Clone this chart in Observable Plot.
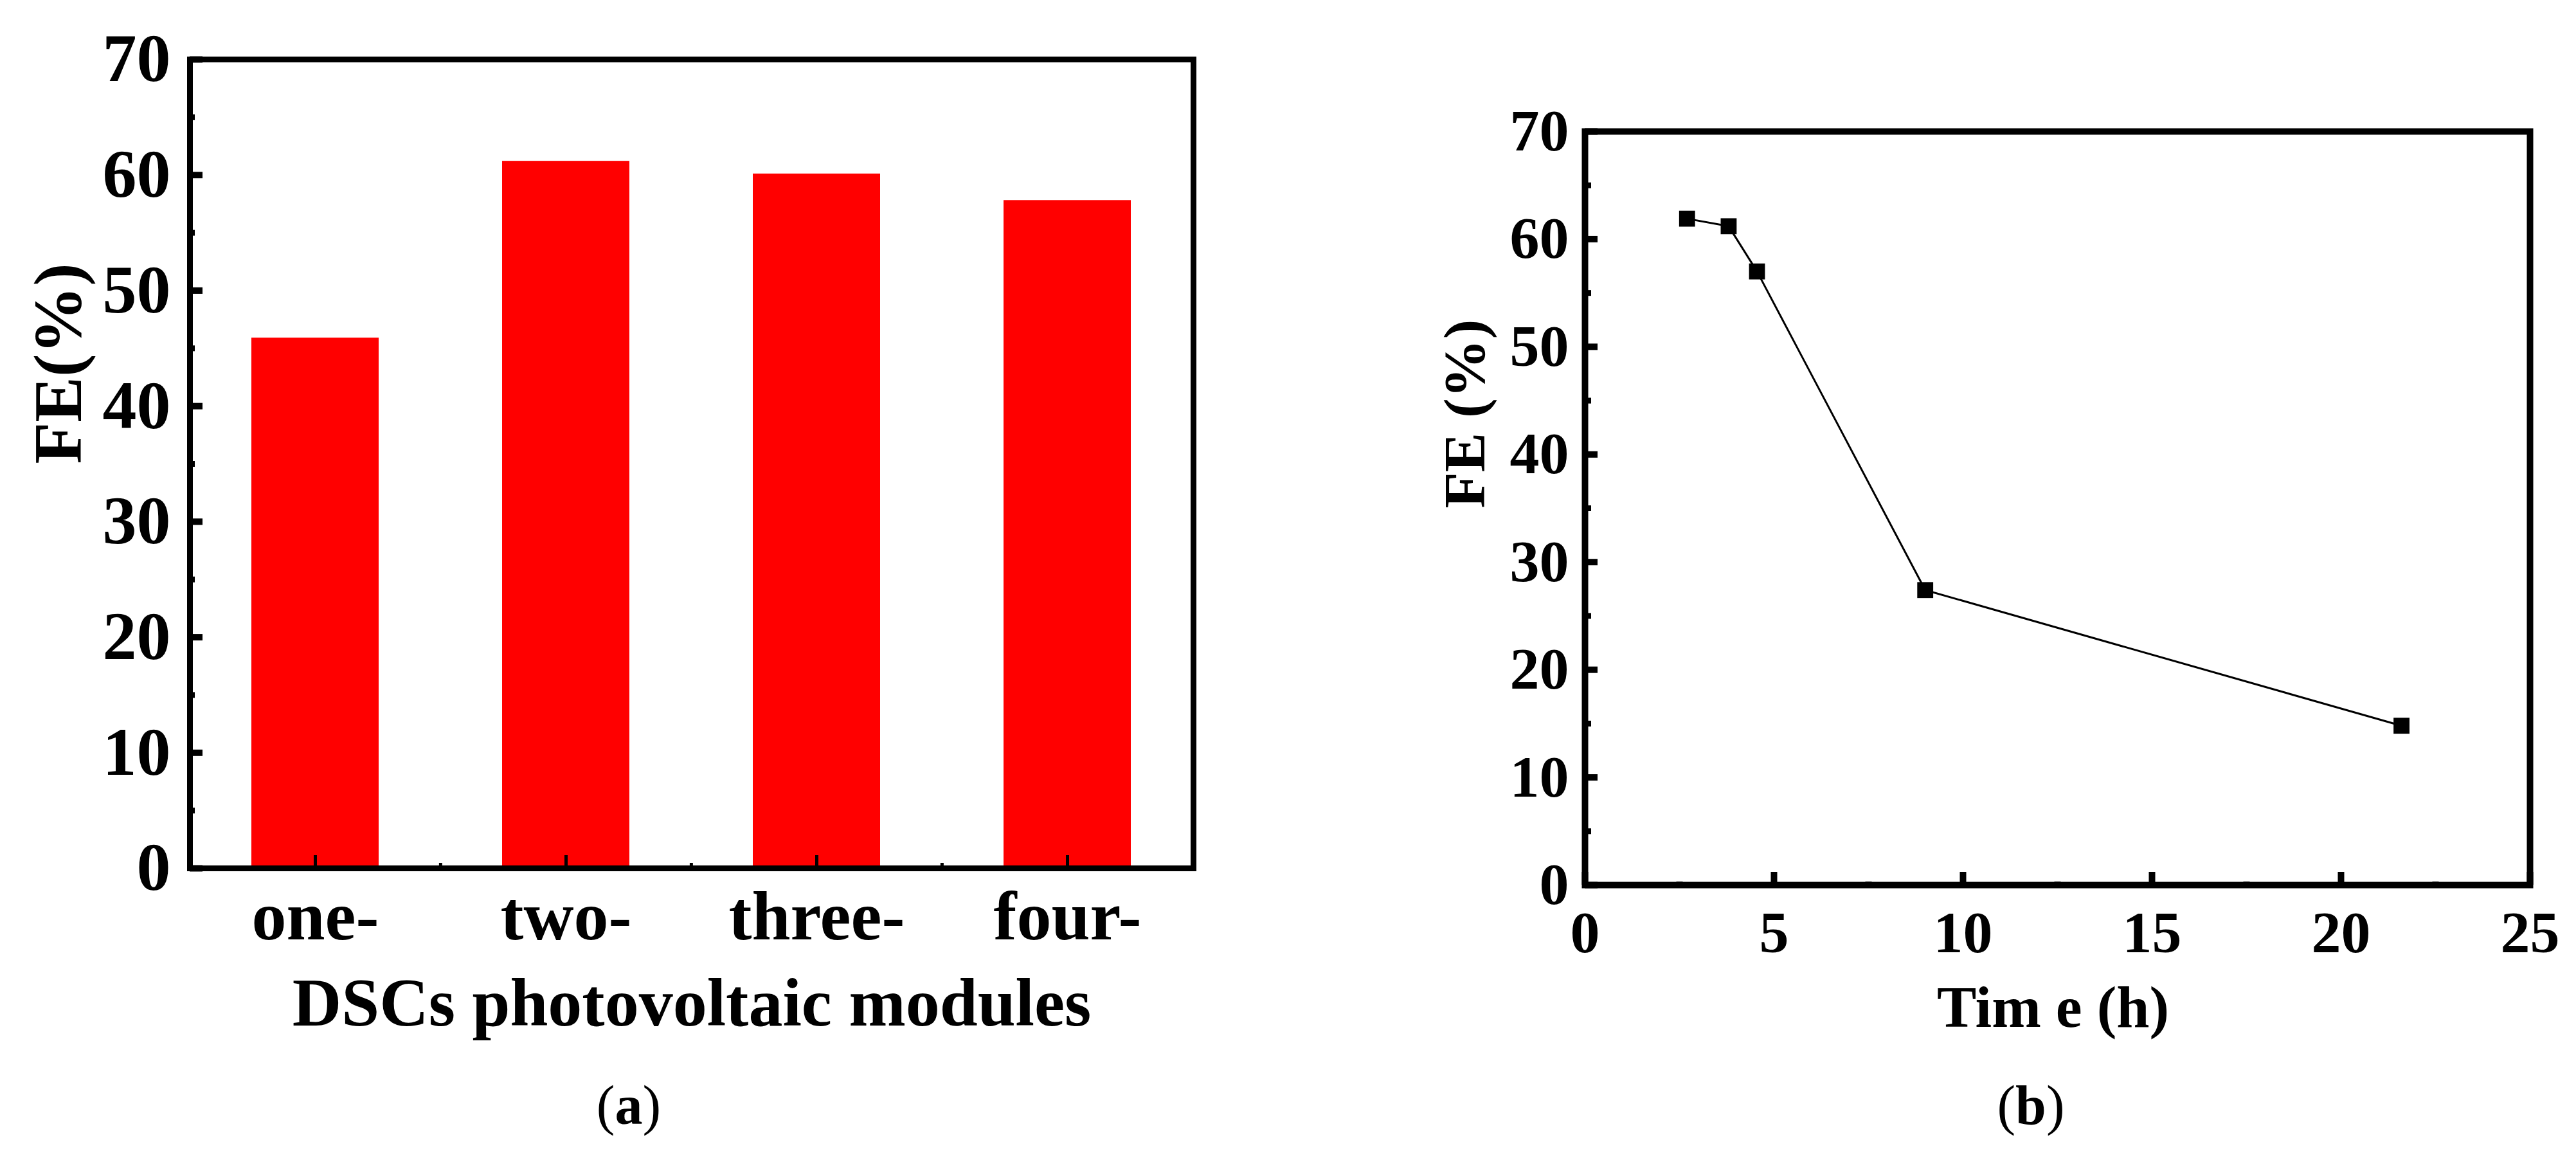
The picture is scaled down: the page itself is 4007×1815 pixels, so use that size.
<!DOCTYPE html>
<html>
<head>
<meta charset="utf-8">
<script src="https://cdn.jsdelivr.net/npm/d3@7"></script>
<script src="https://cdn.jsdelivr.net/npm/@observablehq/plot@0.6"></script>
<style>
  html, body { margin: 0; padding: 0; background: #fff; }
  #page { position: relative; width: 4007px; height: 1815px; background: #fff; overflow: hidden; }
  .panel { position: absolute; top: 0; }
  .caption { position: absolute; top: 1676px; font-family: "Liberation Serif", "Times New Roman", serif; font-size: 86px; line-height: 86px; color: #000; transform: translateX(-50%); white-space: nowrap; }
  .caption b { font-weight: bold; }
</style>
</head>
<body>
<div id="page">
  <div id="panelA" class="panel" style="left:0px"></div>
  <div id="panelB" class="panel" style="left:2000px"></div>
  <div class="caption" style="left:978px">(<b>a</b>)</div>
  <div class="caption" style="left:3159px">(<b>b</b>)</div>
</div>
<script>
// ---- Panel (a) data ----
const categories = ["one-", "two-", "three-", "four-"];
const feModules = [45.9, 61.2, 60.1, 57.8];
const yMajorTicks = [0, 10, 20, 30, 40, 50, 60, 70];
const yMinorTicks = [5, 15, 25, 35, 45, 55, 65];
const xTitleA = "DSCs photovoltaic modules";
const yTitleA = "FE(%)";

// ---- Panel (b) data ----
const timeHours = [2.7, 3.8, 4.55, 9.0, 21.6];
const feTime = [61.9, 61.2, 57.0, 27.4, 14.8];
const xMajorTicksB = [0, 5, 10, 15, 20, 25];
const xMinorTicksB = [2.5, 7.5, 12.5, 17.5, 22.5];
const xTitleB = "Tim e (h)";
const yTitleB = "FE (%)";

const serif = "'Liberation Serif', 'Times New Roman', Times, serif";

// ---------- Panel (a) ----------
{
  const W = 2000, H = 1650;
  const mL = 295, mR = 144, mT = 92, mB = 300;
  const plotW = W - mL - mR, plotH = H - mT - mB;
  const step = plotW / categories.length;
  const table = categories.map((c, i) => ({cat: c, fe: feModules[i]}));
  const chart = Plot.plot({
    width: W, height: H,
    marginLeft: mL, marginRight: mR, marginTop: mT, marginBottom: mB,
    style: {fontFamily: serif, background: "transparent", overflow: "visible"},
    x: {domain: categories, paddingInner: 0.492, paddingOuter: 0.246},
    y: {domain: [0, 70]},
    marks: [
      Plot.barY(table, {x: "cat", y: "fe", fill: "#ff0000"}),
      Plot.frame({stroke: "#000", strokeWidth: 9}),
      Plot.ruleY(yMajorTicks, {y: d => d, insetRight: plotW - 20, stroke: "#000", strokeWidth: 10}),
      Plot.ruleY(yMinorTicks, {y: d => d, insetRight: plotW - 8, stroke: "#000", strokeWidth: 9}),
      Plot.ruleX(categories, {x: d => d, insetTop: plotH - 20, stroke: "#000", strokeWidth: 5}),
      Plot.ruleX(categories.slice(1), {x: d => d, dx: -step / 2, insetTop: plotH - 8, stroke: "#000", strokeWidth: 5}),
      Plot.axisY({ticks: yMajorTicks, tickSize: 0, tickPadding: 30, fontSize: 106, fontWeight: "bold", label: null, tickFormat: d => String(d)}),
      Plot.axisX({tickSize: 0, tickPadding: 34, fontSize: 108, fontWeight: "bold", label: null}),
      Plot.text([yTitleA], {text: d => d, frameAnchor: "left", dx: -203, rotate: -90, fontSize: 106, fontWeight: "bold", fill: "#000"}),
      Plot.text([xTitleA], {text: d => d, frameAnchor: "bottom", dy: 244, lineAnchor: "bottom", fontSize: 106, fontWeight: "bold", fill: "#000"})
    ]
  });
  document.getElementById("panelA").appendChild(chart);
}

// ---------- Panel (b) ----------
{
  const W = 2007, H = 1650;
  const mL = 465, mR = 72, mT = 204, mB = 274;
  const plotW = W - mL - mR, plotH = H - mT - mB;
  const table = timeHours.map((t, i) => ({t, fe: feTime[i]}));
  const chart = Plot.plot({
    width: W, height: H,
    marginLeft: mL, marginRight: mR, marginTop: mT, marginBottom: mB,
    style: {fontFamily: serif, background: "transparent", overflow: "visible"},
    x: {domain: [0, 25]},
    y: {domain: [0, 70]},
    marks: [
      Plot.frame({stroke: "#000", strokeWidth: 10}),
      Plot.ruleY(yMajorTicks, {y: d => d, insetRight: plotW - 20, stroke: "#000", strokeWidth: 10}),
      Plot.ruleY(yMinorTicks, {y: d => d, insetRight: plotW - 10, stroke: "#000", strokeWidth: 9}),
      Plot.ruleX(xMajorTicksB, {x: d => d, insetTop: plotH - 20, stroke: "#000", strokeWidth: 10}),
      Plot.ruleX(xMinorTicksB, {x: d => d, insetTop: plotH - 5, stroke: "#000", strokeWidth: 10}),
      Plot.line(table, {x: "t", y: "fe", stroke: "#000", strokeWidth: 3}),
      Plot.dot(table, {x: "t", y: "fe", symbol: "square", r: 14, fill: "#000", stroke: "none"}),
      Plot.axisY({ticks: yMajorTicks, tickSize: 0, tickPadding: 25, fontSize: 92, fontWeight: "bold", label: null, tickFormat: d => String(d)}),
      Plot.axisX({ticks: xMajorTicksB, tickSize: 0, tickPadding: 39, fontSize: 92, fontWeight: "bold", label: null, tickFormat: d => String(d)}),
      Plot.text([yTitleB], {text: d => d, frameAnchor: "left", dx: -186, rotate: -90, fontSize: 92, fontWeight: "bold", fill: "#000"}),
      Plot.text([xTitleB], {text: d => d, frameAnchor: "bottom", dy: 220, dx: -7, lineAnchor: "bottom", fontSize: 92, fontWeight: "bold", fill: "#000"})
    ]
  });
  document.getElementById("panelB").appendChild(chart);
}
</script>
</body>
</html>
